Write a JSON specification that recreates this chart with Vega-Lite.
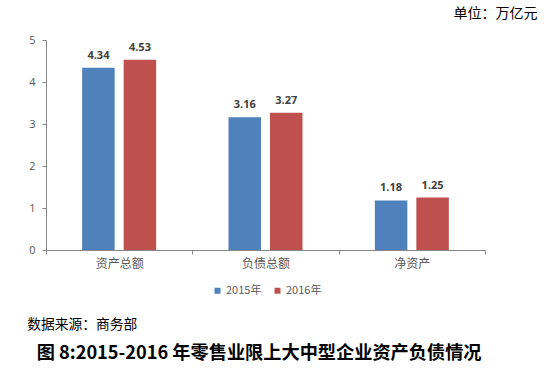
{
  "$schema": "https://vega.github.io/schema/vega-lite/v6.json",
  "width": 439,
  "height": 210,
  "autosize": {"type": "none"},
  "padding": {"left": 46, "top": 40, "right": 63, "bottom": 124},
  "background": "white",
  "data": {"values": [
    {"cat": "资产总额", "year": "2015年", "value": 4.34},
    {"cat": "资产总额", "year": "2016年", "value": 4.53},
    {"cat": "负债总额", "year": "2015年", "value": 3.16},
    {"cat": "负债总额", "year": "2016年", "value": 3.27},
    {"cat": "净资产", "year": "2015年", "value": 1.18},
    {"cat": "净资产", "year": "2016年", "value": 1.25}
  ]},
  "title": {
    "text": "图 8:2015-2016 年零售业限上大中型企业资产负债情况",
    "orient": "bottom",
    "anchor": "start",
    "frame": "group",
    "dx": -9.3,
    "offset": 14,
    "baseline": "top",
    "font": "Noto Sans CJK SC",
    "fontSize": 18.2,
    "fontWeight": "bold",
    "color": "#000000"
  },
  "encoding": {
    "x": {
      "field": "cat",
      "type": "nominal",
      "sort": ["资产总额", "负债总额", "净资产"],
      "scale": {"paddingInner": 0, "paddingOuter": 0},
      "axis": {
        "labelAngle": 0,
        "domainColor": "#868686",
        "tickColor": "#868686",
        "tickBand": "extent",
        "tickSize": 4,
        "labelFont": "Noto Sans CJK SC",
        "labelFontSize": 12,
        "labelColor": "#595959",
        "labelPadding": 4,
        "title": "数据来源：商务部",
        "titleX": -19.3,
        "titleY": 74,
        "titleAlign": "left",
        "titleAnchor": "start",
        "titleBaseline": "middle",
        "titleFont": "Noto Sans CJK SC",
        "titleFontSize": 13.75,
        "titleFontWeight": "normal",
        "titleColor": "#000000"
      }
    },
    "xOffset": {
      "field": "year",
      "type": "nominal",
      "scale": {"paddingInner": 0.217, "paddingOuter": 0.871}
    },
    "y": {
      "field": "value",
      "type": "quantitative",
      "scale": {"domain": [0, 5], "nice": false},
      "axis": {
        "values": [0, 1, 2, 3, 4, 5],
        "grid": false,
        "domainColor": "#868686",
        "tickColor": "#868686",
        "tickSize": 4,
        "labelFont": "Open Sans",
        "labelFontSize": 11,
        "labelColor": "#595959",
        "labelPadding": 7,
        "title": "单位：万亿元",
        "titleAngle": 0,
        "titleX": 491,
        "titleY": -27,
        "titleAlign": "right",
        "titleBaseline": "middle",
        "titleFont": "Noto Sans CJK SC",
        "titleFontSize": 14,
        "titleFontWeight": "normal",
        "titleColor": "#000000"
      }
    }
  },
  "layer": [
    {
      "mark": {"type": "bar"},
      "encoding": {
        "color": {
          "field": "year",
          "type": "nominal",
          "scale": {"range": ["#4F81BD", "#C0504D"]},
          "legend": {
            "orient": "none",
            "legendX": 166,
            "legendY": 245,
            "title": null,
            "direction": "horizontal",
            "symbolType": "square",
            "symbolSize": 36,
            "symbolStrokeWidth": 0,
            "labelFont": "Noto Sans CJK SC",
            "labelFontSize": 11,
            "labelColor": "#595959",
            "labelOffset": 3,
            "columnPadding": 10,
            "padding": 0
          }
        }
      }
    },
    {
      "mark": {
        "type": "text",
        "baseline": "alphabetic",
        "dy": -9,
        "font": "Open Sans",
        "fontSize": 11,
        "fontWeight": "bold",
        "color": "#404040"
      },
      "encoding": {
        "text": {"field": "value", "type": "quantitative", "format": ".2f"}
      }
    }
  ],
  "config": {
    "view": {"stroke": null}
  }
}
